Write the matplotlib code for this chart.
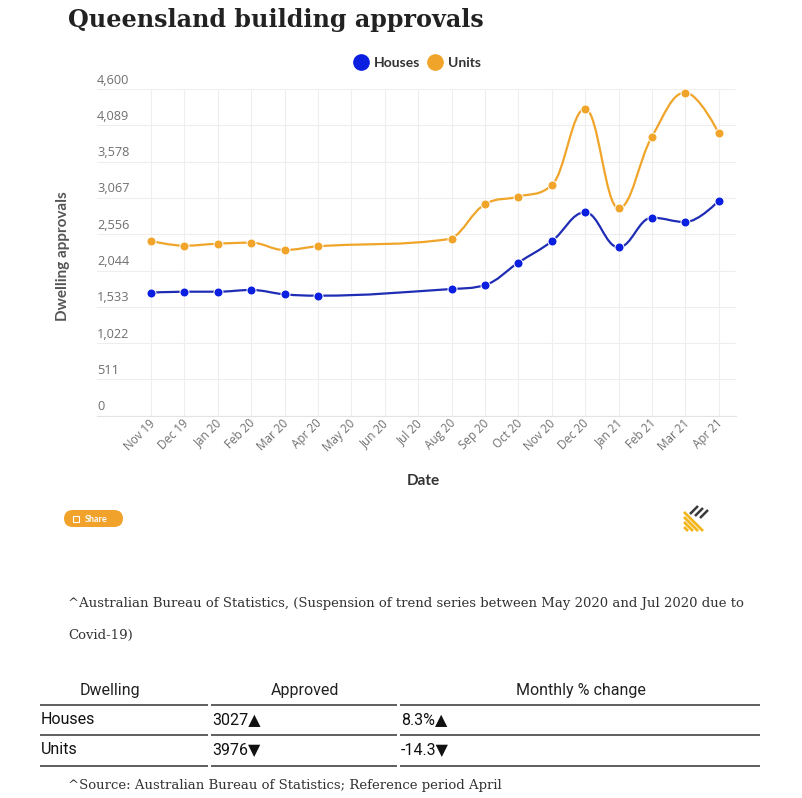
"""Queensland building approvals: houses vs units, Nov 2019 - Apr 2021."""

import matplotlib

matplotlib.use("Agg")
import matplotlib.pyplot as plt  # noqa: E402
import numpy as np  # noqa: E402
from matplotlib.lines import Line2D  # noqa: E402
from matplotlib.patches import FancyBboxPatch, PathPatch, Rectangle  # noqa: E402
from matplotlib.path import Path  # noqa: E402
from matplotlib.transforms import ScaledTranslation  # noqa: E402

months = ["Nov 19", "Dec 19", "Jan 20", "Feb 20", "Mar 20", "Apr 20", "May 20",
          "Jun 20", "Jul 20", "Aug 20", "Sep 20", "Oct 20", "Nov 20", "Dec 20",
          "Jan 21", "Feb 21", "Mar 21", "Apr 21"]
# trend series suspended May-Jul 2020
houses = [1732, 1746, 1746, 1770, 1709, 1690, np.nan, np.nan, np.nan,
          1784, 1840, 2155, 2455, 2864, 2371, 2788, 2727, 3027]
units = [2460, 2394, 2422, 2436, 2333, 2385, np.nan, np.nan, np.nan,
         2492, 2976, 3084, 3244, 4323, 2920, 3929, 4549, 3976]
y_ticks = [0, 511, 1022, 1533, 2044, 2556, 3067, 3578, 4089, 4600]

table_header = ["Dwelling", "Approved", "Monthly % change"]
table_rows = [["Houses", "3027▲", "8.3%▲"],
              ["Units", "3976▼", "-14.3▼"]]

HOUSES_C = "#0b1fe0"
HOUSES_LINE = "#1f2db5"
UNITS_C = "#f0a52a"
W, H = 803, 798


def px(x, y):
    """pixel (from top-left) -> figure fraction"""
    return x / W, 1 - y / H


def spline_path(xs, ys, smoothing=1.5):
    # Highcharts-style spline through the points
    n = len(xs)
    left = [(xs[i], ys[i]) for i in range(n)]
    right = [(xs[i], ys[i]) for i in range(n)]
    d = smoothing + 1
    for i in range(1, n - 1):
        lx, ly = xs[i - 1], ys[i - 1]
        nx, ny = xs[i + 1], ys[i + 1]
        x, y = xs[i], ys[i]
        lcx = (smoothing * x + lx) / d
        lcy = (smoothing * y + ly) / d
        rcx = (smoothing * x + nx) / d
        rcy = (smoothing * y + ny) / d
        if rcx != lcx:
            corr = (rcy - lcy) * (rcx - x) / (rcx - lcx) + y - rcy
            lcy += corr
            rcy += corr
        if lcy > ly and lcy > y:
            lcy = max(ly, y)
            rcy = 2 * y - lcy
        elif lcy < ly and lcy < y:
            lcy = min(ly, y)
            rcy = 2 * y - lcy
        if rcy > ny and rcy > y:
            rcy = max(ny, y)
            lcy = 2 * y - rcy
        elif rcy < ny and rcy < y:
            rcy = min(ny, y)
            lcy = 2 * y - rcy
        left[i] = (lcx, lcy)
        right[i] = (rcx, rcy)
    verts = [(xs[0], ys[0])]
    codes = [Path.MOVETO]
    for i in range(1, n):
        verts += [right[i - 1], left[i], (xs[i], ys[i])]
        codes += [Path.CURVE4] * 3
    return Path(verts, codes)


def seg(fig, p, q, color, lw):
    (ax_, ay_), (bx_, by_) = px(*p), px(*q)
    fig.add_artist(Line2D([ax_, bx_], [ay_, by_], transform=fig.transFigure,
                          color=color, lw=lw, solid_capstyle="butt"))


fig = plt.figure(figsize=(W / 100, H / 100), dpi=100)
fig.patch.set_facecolor("white")

x0, y0 = px(97, 415.7)
x1, y1 = px(736, 89)
ax = fig.add_axes([x0, y0, x1 - x0, y1 - y0])

idx = np.arange(len(months))
for vals, line_c, mark_c in [(houses, HOUSES_LINE, HOUSES_C), (units, UNITS_C, UNITS_C)]:
    v = np.array(vals, dtype=float)
    ok = np.isfinite(v)
    path = spline_path(list(idx[ok]), list(v[ok]))
    ax.add_patch(PathPatch(path, facecolor="none", edgecolor=line_c, lw=1.6,
                           zorder=3, capstyle="round", joinstyle="round"))
    ax.plot(idx[ok], v[ok], ls="none", marker="o", ms=6.5, mfc=mark_c,
            mec="white", mew=0.7, zorder=4)

ax.set_xlim(-(150.9 - 97) / 33.4, 17 + (736 - 718.7) / 33.4)
ax.set_ylim(0, 4600)
ax.set_yticks(y_ticks, [f"{t:,}" for t in y_ticks])
ax.set_xticks(idx, months)
ax.grid(True, color="#eeeeee", lw=0.8)
ax.set_axisbelow(True)
for s in ["top", "right", "left"]:
    ax.spines[s].set_visible(False)
ax.spines["bottom"].set_color("#e3e3e3")
ax.tick_params(axis="y", length=0, pad=0, labelsize=9.2, labelcolor="#6f6f6f")
ax.tick_params(axis="x", length=0, pad=4, labelsize=8.4, labelcolor="#6f6f6f")
shift = ScaledTranslation(0, 0.09, fig.dpi_scale_trans)
for lab in ax.get_yticklabels():
    lab.set_horizontalalignment("left")
    lab.set_verticalalignment("center")
    lab.set_fontfamily("Open Sans")
    lab.set_transform(lab.get_transform() + shift)
xshift = ScaledTranslation(0.02, 0, fig.dpi_scale_trans)
for lab in ax.get_xticklabels():
    lab.set_rotation(45)
    lab.set_rotation_mode("anchor")
    lab.set_horizontalalignment("right")
    lab.set_verticalalignment("center")
    lab.set_fontfamily("Open Sans")
    lab.set_transform(lab.get_transform() + xshift)

# titles
fig.text(*px(68, 20), "Queensland building approvals", family="DejaVu Serif",
         weight="bold", fontsize=17.2, color="#222222", va="center", ha="left")
fig.text(*px(63, 256), "Dwelling approvals", family="Lato", weight="bold",
         fontsize=11, color="#555555", rotation=90, ha="center", va="center")
fig.text(*px(423, 481), "Date", family="Lato", weight="bold", fontsize=11,
         color="#333333", ha="center", va="center")

handles = [Line2D([], [], ls="none", marker="o", ms=11, mfc=HOUSES_C, mec=HOUSES_C),
           Line2D([], [], ls="none", marker="o", ms=11, mfc=UNITS_C, mec=UNITS_C)]
fig.legend(handles, ["Houses", "Units"], loc="center", bbox_to_anchor=px(418, 63),
           ncol=2, frameon=False, handlelength=0.8, handletextpad=0.5,
           columnspacing=0.7, prop={"family": "Lato", "weight": "bold", "size": 10},
           labelcolor="#333333")

# share button
bx, by = px(64, 527)
fig.patches.append(FancyBboxPatch((bx, by), 59 / W, 17 / H,
                                  boxstyle="round,pad=0,rounding_size=0.011",
                                  transform=fig.transFigure, facecolor="#f0a22a",
                                  edgecolor="none"))
fig.patches.append(Rectangle(px(73, 522), 6 / W, 6 / H, transform=fig.transFigure,
                             facecolor="none", edgecolor="white", lw=0.8))
fig.text(*px(85, 519), "Share", family="Lato", fontsize=6.5, color="white",
         ha="left", va="center", weight="bold")

# logo: yellow hatch lower-left, dark hatch upper-right
for k in range(4):
    seg(fig, (684, 512 + 5 * k), (703 - 5 * k, 531), "#f2b51c", 2.0)
for k in range(3):
    seg(fig, (690 + 5 * k, 514 + 2 * k), (698 + 5 * k, 506 + 2 * k), "#3a3a3a", 1.8)

# notes
note_kw = dict(family="DejaVu Serif", fontsize=9.55, color="#333333", ha="left", va="center")
fig.text(*px(68, 603), "^Australian Bureau of Statistics, (Suspension of trend series "
         "between May 2020 and Jul 2020 due to", **note_kw)
fig.text(*px(68, 635), "Covid-19)", **note_kw)
fig.text(*px(68, 786), "^Source: Australian Bureau of Statistics; Reference period April",
         **note_kw)

# table
tfont = ["Roboto", "DejaVu Sans"]
col_spans = [(40, 208), (211, 397), (400, 760)]
head_x = [110, 305, 581]
for hx, txt in zip(head_x, table_header):
    fig.text(*px(hx, 690), txt, family=tfont, fontsize=11.5, color="#222222",
             ha="center", va="center")
for ly in [705, 735, 766]:
    for a, b in col_spans:
        seg(fig, (a, ly), (b, ly), "#333333", 1.1)
row_x = [41, 212, 401]
for ry, row in zip([720, 750], table_rows):
    for rx, txt in zip(row_x, row):
        fig.text(*px(rx, ry), txt, family=tfont, fontsize=11.5, color="#111111",
                 ha="left", va="center")

fig.savefig("out.png", dpi=100)
